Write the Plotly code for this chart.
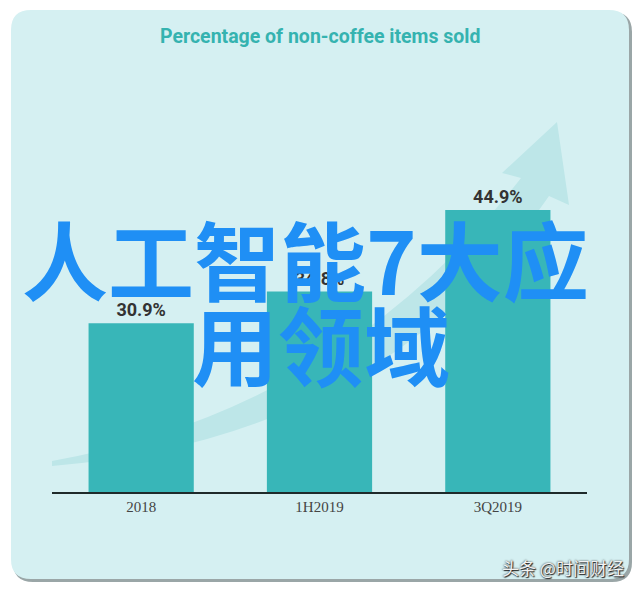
import plotly.graph_objects as go

# ---- data ----
categories = ["2018", "1H2019", "3Q2019"]
values = [30.9, 34.8, 44.9]
value_labels = ["30.9%", "34.8%", "44.9%"]
title_text = "Percentage of non-coffee items sold"
overlay_line1 = "人工智能7大应"
overlay_line2 = "用领域"
watermark = "头条 @时间财经"

OFF = 8  # default page body margin
W, H = 640 - OFF, 591 - OFF
L, R, T, B = 52 - OFF, 53, 100 - OFF, 99
PW = W - L - R
PH = H - T - B


def px(x):
    return (x - OFF - L) / PW


def py(y):
    return (H - B - (y - OFF)) / PH


def rounded_rect(x0, y0, x1, y1, r):
    pts = [
        f"M {px(x0 + r)},{py(y0)}",
        f"L {px(x1 - r)},{py(y0)}",
        f"Q {px(x1)},{py(y0)} {px(x1)},{py(y0 + r)}",
        f"L {px(x1)},{py(y1 - r)}",
        f"Q {px(x1)},{py(y1)} {px(x1 - r)},{py(y1)}",
        f"L {px(x0 + r)},{py(y1)}",
        f"Q {px(x0)},{py(y1)} {px(x0)},{py(y1 - r)}",
        f"L {px(x0)},{py(y0 + r)}",
        f"Q {px(x0)},{py(y0)} {px(x0 + r)},{py(y0)}",
        "Z",
    ]
    return " ".join(pts)


def path(cmds):
    out = []
    for c in cmds:
        op = c[0]
        coords = c[1:]
        s = op + " " + " ".join(f"{px(coords[i])},{py(coords[i + 1])}" for i in range(0, len(coords), 2))
        out.append(s)
    return " ".join(out) + " Z"


shapes = [
    # card shadow
    dict(type="path", xref="paper", yref="paper", layer="below",
         path=rounded_rect(13, 12, 632, 582, 20),
         fillcolor="#9aa6a7", line=dict(width=0)),
    # card
    dict(type="path", xref="paper", yref="paper", layer="below",
         path=rounded_rect(11, 10, 629, 579, 20),
         fillcolor="#d5f0f2", line=dict(width=0)),
    # decorative arrow
    dict(type="path", xref="paper", yref="paper", layer="below",
         path=path([
             ("M", 52, 461),
             ("Q", 340, 410, 521, 178),
             ("L", 502, 173),
             ("L", 557, 122),
             ("L", 569, 205),
             ("L", 549, 196),
             ("Q", 380, 440, 52, 466),
         ]),
         fillcolor="#bde6e8", line=dict(width=0)),
]

fig = go.Figure(go.Bar(
    x=categories,
    y=values,
    text=value_labels,
    textposition="outside",
    cliponaxis=False,
    marker=dict(color="#38b6b8", line=dict(width=0)),
    textfont=dict(family="Roboto", size=18, color="#333333", weight="bold"),
    hoverinfo="skip",
))

annotations = [
    dict(text=title_text, xref="paper", yref="paper", x=px(320), y=py(36),
         xanchor="center", yanchor="middle", showarrow=False,
         font=dict(family="Roboto", size=19.5, color="#35b3b0", weight="bold")),
    dict(text=overlay_line1, xref="paper", yref="paper", x=px(305), y=py(258),
         xanchor="center", yanchor="middle", showarrow=False,
         font=dict(family="Noto Sans CJK SC", size=86, color="#1f8ff5", weight="bold")),
    dict(text=overlay_line2, xref="paper", yref="paper", x=px(321), y=py(342),
         xanchor="center", yanchor="middle", showarrow=False,
         font=dict(family="Noto Sans CJK SC", size=86, color="#1f8ff5", weight="bold")),
    dict(text=watermark, xref="paper", yref="paper", x=px(626), y=py(567),
         xanchor="right", yanchor="middle", showarrow=False,
         font=dict(family="Noto Sans CJK SC", size=17, color="#f2f2f2",
                   shadow="0px 0px 2px #222, 1px 1px 1px #222")),
]

fig.update_layout(
    width=W, height=H,
    margin=dict(l=L, r=R, t=T, b=B, pad=0),
    paper_bgcolor="white",
    plot_bgcolor="rgba(0,0,0,0)",
    bargap=0.41,
    showlegend=False,
    shapes=shapes,
    annotations=annotations,
    xaxis=dict(
        type="category",
        range=[-0.5, 2.5],
        showline=True, linecolor="#1e2a2a", linewidth=2,
        showgrid=False, zeroline=False, ticks="",
        tickfont=dict(family="Liberation Serif", size=15, color="#444444"),
    ),
    yaxis=dict(
        range=[10, 10 + PH / 8.08],
        visible=False, showgrid=False, zeroline=False,
    ),
)

fig.write_html("out.html")
